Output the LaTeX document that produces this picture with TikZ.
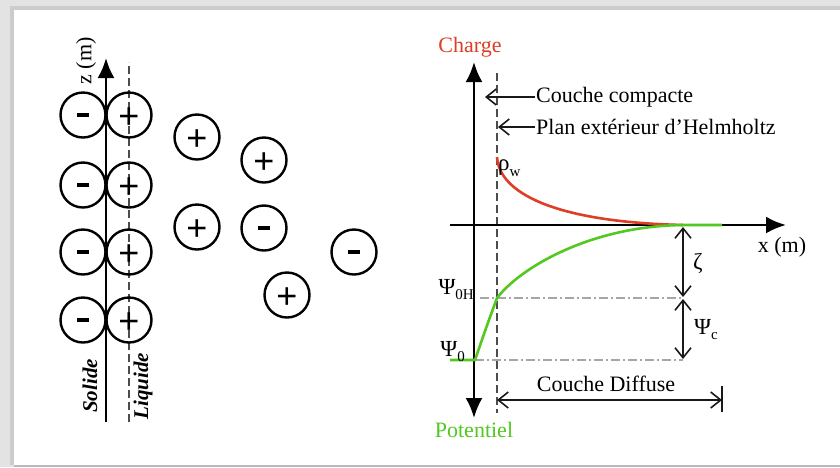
\documentclass[tikz,border=0pt]{standalone}
\usepackage{fontspec}
\setmainfont{Liberation Serif}
\newfontfamily\ionfont{Liberation Sans}
\usepackage{xcolor}
\usepackage{tikz}
\usetikzlibrary{arrows,arrows.meta,positioning,calc}
\definecolor{chargered}{RGB}{222,62,38}
\definecolor{potgreen}{RGB}{82,200,32}

\begin{document}
\begin{tikzpicture}[x=1pt,y=-1pt,
    ion/.style={circle,draw,line width=2.4pt,minimum size=45pt,inner sep=0pt,
                font=\ionfont\fontsize{36}{36}\selectfont},
    cation/.style={ion,text height=27pt,text depth=0pt},
    anion/.style={ion},
    axis/.style={draw,line width=2.6pt},
    axtip/.tip={Latex[length=20pt,width=17pt]},
    guide/.style={draw,gray!60!black,line width=1.8pt,dash pattern=on 8pt off 4pt},
    level/.style={draw,gray!70,line width=1.5pt,dash pattern=on 9pt off 3pt on 2pt off 3pt},
    dim/.style={draw,gray!20!black,line width=1.6pt,
                {Straight Barb[length=10pt,width=16pt]}-{Straight Barb[length=10pt,width=16pt]}},
    pointer/.style={draw,gray!20!black,line width=1.6pt,-{Straight Barb[length=10pt,width=16pt]}},
    lbl/.style={font=\fontsize{22}{24}\selectfont,inner sep=1pt},
    psi/.style={font=\fontsize{23}{24}\selectfont,inner sep=0pt},
    side/.style={font=\fontsize{21}{24}\selectfont\bfseries\itshape,inner sep=1pt,rotate=90}]
    % frame
    \fill[gray!22](0,0)rectangle(840,467);
    \fill[gray!40](10,6)rectangle(840,465);
    \fill[white](14,10)rectangle(840,465);
    \fill[gray!55](14,465)rectangle(840,467);
    % solid / liquid interface
    \coordinate(zbot)at(106,422);
    \coordinate(ztop)at(106,58);
    \coordinate(lbot)at(129,422);
    \coordinate(ltop)at(129,62);
    \draw[axis,-axtip](zbot)--(ztop);
    \draw[guide](lbot)--(ltop);
    \node[lbl,rotate=90](zlab)at(86,61){z (m)};
    \node[side](solid)at(90,386){Solide};
    \node[side](liquid)at(143,386){Liquide};
    \foreach \zy [count=\i] in {115,185,252,320}{
        \node[anion](neg\i)at(83,\zy){\rule{12pt}{4.5pt}};
        \node[cation](pos\i)at(129,\zy){+};
    }
    \node[cation](fa)at(197,137){+};
    \node[cation](fb)at(264,160){+};
    \node[cation](fc)at(197,227){+};
    \node[anion](fd)at(264,228){\rule{12pt}{4.5pt}};
    \node[anion](fe)at(354,252){\rule{12pt}{4.5pt}};
    \node[cation](ff)at(287,295){+};
    % charge / potential axes
    \coordinate(top)at(474,62);
    \coordinate(bot)at(474,418);
    \coordinate(xl)at(450,225);
    \coordinate(xr)at(786,225);
    \coordinate(ohptop)at(497,73);
    \coordinate(ohpbot)at(497,413);
    \draw[guide](ohptop)--(ohpbot);
    \draw[axis,axtip-axtip](top)--(bot);
    \draw[axis,-axtip](xl)--(xr);
    \node[lbl,text=chargered](charge)at(470,47){Charge};
    \node[lbl,text=potgreen](pot)at(474,430){Potentiel};
    \node[lbl](xlab)at(782,247){x (m)};
    \node[lbl,anchor=west](cc)at(535,97){Couche compacte};
    \node[lbl,anchor=west](peh)at(535,127){Plan extérieur d'Helmholtz};
    \coordinate(cctip)at(485,97);
    \coordinate(pehtip)at(498,127);
    \draw[pointer](cc.west)--(cctip);
    \draw[pointer](peh.west)--(pehtip);
    % levels
    \coordinate(psiH)at(497,298);
    \coordinate(psi0)at(475,360);
    \coordinate(zeta)at(683,225);
    \coordinate(levH)at(683,298);
    \coordinate(lev0)at(683,360);
    \draw[level](480,298)--(levH);
    \draw[level](psi0)--(lev0);
    % curves
    \draw[chargered,line width=2.6pt](497,157)..controls(499,192)and(552,222)..(zeta);
    \draw[potgreen,line width=2.6pt](450,360)--(psi0)..controls(486,328)..(psiH)
        ..controls(520,268)and(590,226)..(zeta)--(722,225);
    \node[psi,anchor=west](rho)at(498,168){ρ\raisebox{-6pt}{\fontsize{15}{15}\selectfont w}};
    \node[psi,anchor=east](lH)at(474,290){Ψ\raisebox{-5pt}{\fontsize{15}{15}\selectfont 0H}};
    \node[psi,anchor=east](l0)at(465,352){Ψ\raisebox{-5pt}{\fontsize{15}{15}\selectfont 0}};
    % dimensions
    \draw[dim]($(zeta)+(0,2)$)--($(levH)+(0,-1)$);
    \draw[dim]($(levH)+(0,1)$)--($(lev0)+(0,-1)$);
    \node[psi](zl)at(698,263){ζ};
    \node[psi](pcl)at(706,330){Ψ\raisebox{-5pt}{\fontsize{15}{15}\selectfont c}};
    \coordinate(dl)at(497,400);
    \coordinate(dr)at(722,400);
    \draw[dim](dl)--(dr);
    \draw[draw,gray!20!black,line width=1.8pt]($(dr)+(0,-14)$)--($(dr)+(0,12)$);
    \node[lbl](cd)at(606,384){Couche Diffuse};
\end{tikzpicture}
\end{document}
